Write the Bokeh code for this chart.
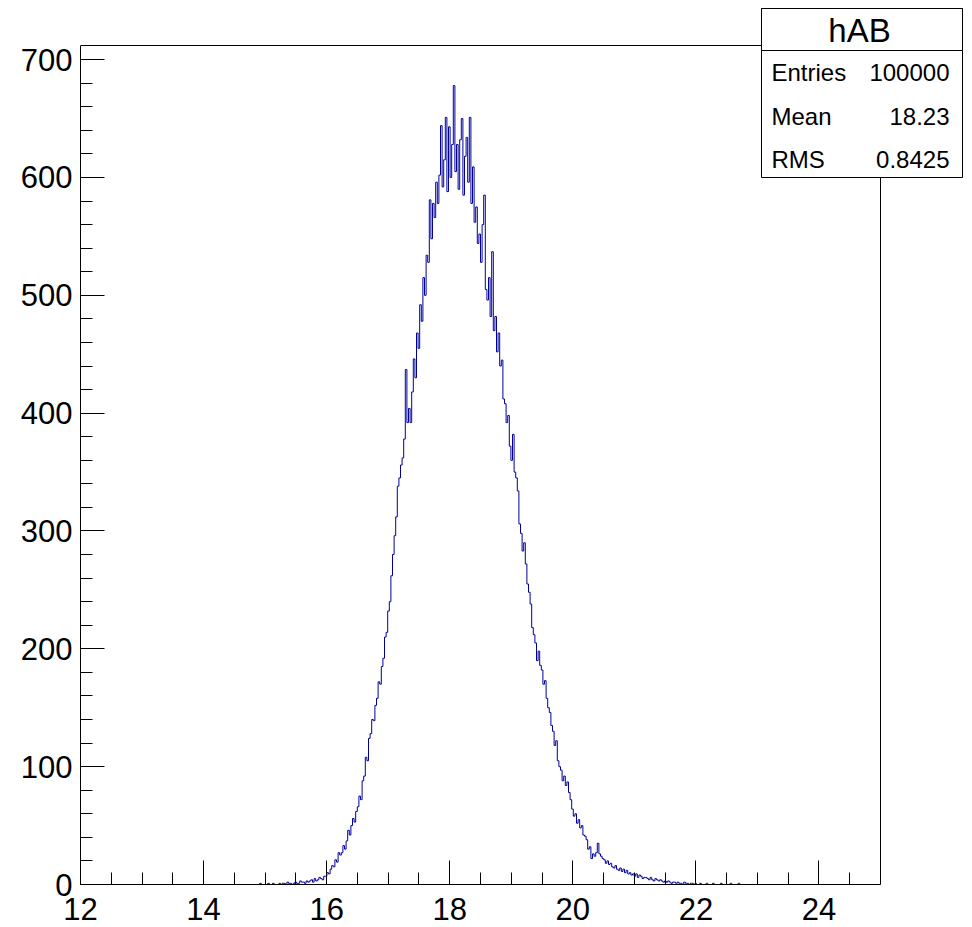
import numpy as np
from bokeh.plotting import figure
from bokeh.models import Range1d, SingleIntervalTicker, BoxAnnotation, Label
from bokeh.embed import file_html
from bokeh.resources import INLINE

# ---- data ----
x_min, x_max = 12.0, 25.0
bin_width = 0.026
first_bin = 111          # index of first bin listed below
y_max = 712              # top of the histogram frame

counts_nz = [
    0, 1, 0, 0, 0, 0, 1, 0, 0, 1, 0, 0,
    0, 1, 0, 1, 1, 0, 2, 1, 1, 0,
    1, 2, 1, 1, 3, 2, 2, 1, 3, 2,
    3, 4, 2, 5, 3, 4, 6, 5, 4, 7,
    7, 10, 9, 13, 16, 15, 21, 19, 27, 25,
    27, 33, 30, 37, 46, 42, 50, 56, 53, 62,
    66, 75, 72, 88, 92, 108, 105, 124, 128, 140,
    139, 152, 158, 172, 170, 185, 192, 210, 214, 232,
    240, 262, 280, 296, 312, 338, 345, 356, 362, 378,
    437, 392, 404, 392, 418, 446, 430, 468, 455, 492,
    478, 515, 500, 534, 528, 581, 548, 578, 566, 596,
    578, 602, 644, 592, 615, 651, 588, 643, 600, 628,
    678, 605, 628, 590, 632, 650, 585, 618, 634, 596,
    651, 578, 609, 562, 575, 544, 552, 528, 560, 585,
    505, 496, 515, 482, 537, 470, 482, 452, 468, 440,
    445, 412, 408, 392, 398, 372, 360, 382, 350, 345,
    334, 306, 298, 283, 290, 272, 255, 248, 238, 218,
    212, 205, 190, 198, 186, 182, 170, 173, 158, 150,
    146, 135, 130, 118, 122, 105, 100, 97, 88, 92,
    84, 87, 78, 72, 64, 58, 60, 52, 55, 48,
    50, 42, 41, 38, 30, 32, 22, 26, 24, 27,
    35, 26, 24, 22, 21, 18, 20, 17, 18, 15,
    14, 16, 13, 12, 14, 11, 13, 10, 12, 9,
    10, 8, 9, 7, 9, 6, 8, 7, 5, 6,
    6, 5, 4, 6, 4, 3, 5, 4, 3, 4,
    3, 2, 3, 2, 3, 2, 1, 2, 2, 1,
    2, 1, 1, 0, 2, 1, 1, 0, 1, 1,
    0, 1, 0, 0, 1, 0, 0, 0, 1, 0,
    0, 0, 1, 0, 0, 0, 0, 1, 0, 0,
    0, 0, 0, 1, 0, 0, 0, 0, 1, 0,
]

stats_title = "hAB"
stats_names = ["Entries", "Mean", "RMS"]
stats_values = ["100000", "18.23", "0.8425"]

# ---- layout (pixels) ----
W, H = 972, 927
hist_left, hist_right, hist_top, hist_bottom = 80, 880, 45, 884   # ROOT frame
frame_top, frame_right = 4, 966                                    # bokeh frame (holds stats box)
ppx = (hist_right - hist_left) / (x_max - x_min)
ppy = (hist_bottom - hist_top) / y_max
x_end = x_max + (frame_right - hist_right) / ppx
y_end = y_max + (hist_top - frame_top) / ppy

# ---- histogram outline ----
counts = np.array(counts_nz, dtype=float)
edges = x_min + bin_width * (first_bin + np.arange(len(counts) + 1))
ys = np.append(counts, counts[-1])

FONT = "Liberation Sans"
HIST_COLOR = "#000099"

p = figure(width=W, height=H, output_backend="svg", toolbar_location=None,
           x_range=Range1d(x_min, x_end), y_range=Range1d(0, y_end),
           min_border_left=hist_left, min_border_right=W - frame_right,
           min_border_top=frame_top, min_border_bottom=H - hist_bottom)
p.background_fill_color = "white"
p.border_fill_color = "white"
p.outline_line_color = None
p.grid.visible = False

p.step(edges, ys, mode="after", line_color=HIST_COLOR, line_width=1)

# top and right sides of the histogram frame
p.segment(x0=[x_min, x_max], y0=[y_max, 0], x1=[x_max, x_max], y1=[y_max, y_max],
          line_color="black", line_width=1)

p.xaxis.ticker = SingleIntervalTicker(interval=2, num_minor_ticks=4)
p.yaxis.ticker = SingleIntervalTicker(interval=100, num_minor_ticks=5)
p.xaxis.bounds = (x_min, x_max)
p.yaxis.bounds = (0, y_max)
for ax in (p.xaxis, p.yaxis):
    ax.axis_line_color = "black"
    ax.major_tick_line_color = "black"
    ax.minor_tick_line_color = "black"
    ax.major_tick_in = 24
    ax.major_tick_out = 0
    ax.minor_tick_in = 12
    ax.minor_tick_out = 0
    ax.major_label_text_font = FONT
    ax.major_label_text_color = "black"
    ax.major_label_text_font_size = "31px"
p.xaxis.major_label_standoff = 13
p.yaxis.major_label_standoff = 8

# ---- stats box (screen coords relative to frame bottom-left) ----
def sx(px):
    return px - hist_left

def sy(py):
    return hist_bottom - py

box_kw = dict(left_units="screen", right_units="screen", top_units="screen",
              bottom_units="screen", fill_color="white", fill_alpha=1.0,
              line_color="black", line_width=1, line_alpha=1.0, level="overlay")
p.add_layout(BoxAnnotation(left=sx(761), right=sx(962), top=sy(8), bottom=sy(177), **box_kw))
p.add_layout(BoxAnnotation(left=sx(761), right=sx(962), top=sy(8), bottom=sy(50), **box_kw))

p.add_layout(Label(x=sx(859), y=sy(30), x_units="screen", y_units="screen", text=stats_title,
                   text_align="center", text_baseline="middle", text_font=FONT,
                   text_font_size="33px", text_color="black", level="overlay"))
row_py = [72, 116, 159]
for name, val, py in zip(stats_names, stats_values, row_py):
    p.add_layout(Label(x=sx(771), y=sy(py), x_units="screen", y_units="screen", text=name,
                       text_align="left", text_baseline="middle", text_font=FONT,
                       text_font_size="24px", text_color="black", level="overlay"))
    p.add_layout(Label(x=sx(949), y=sy(py), x_units="screen", y_units="screen", text=val,
                       text_align="right", text_baseline="middle", text_font=FONT,
                       text_font_size="24px", text_color="black", level="overlay"))

open("out.html", "w").write(file_html(p, INLINE))
